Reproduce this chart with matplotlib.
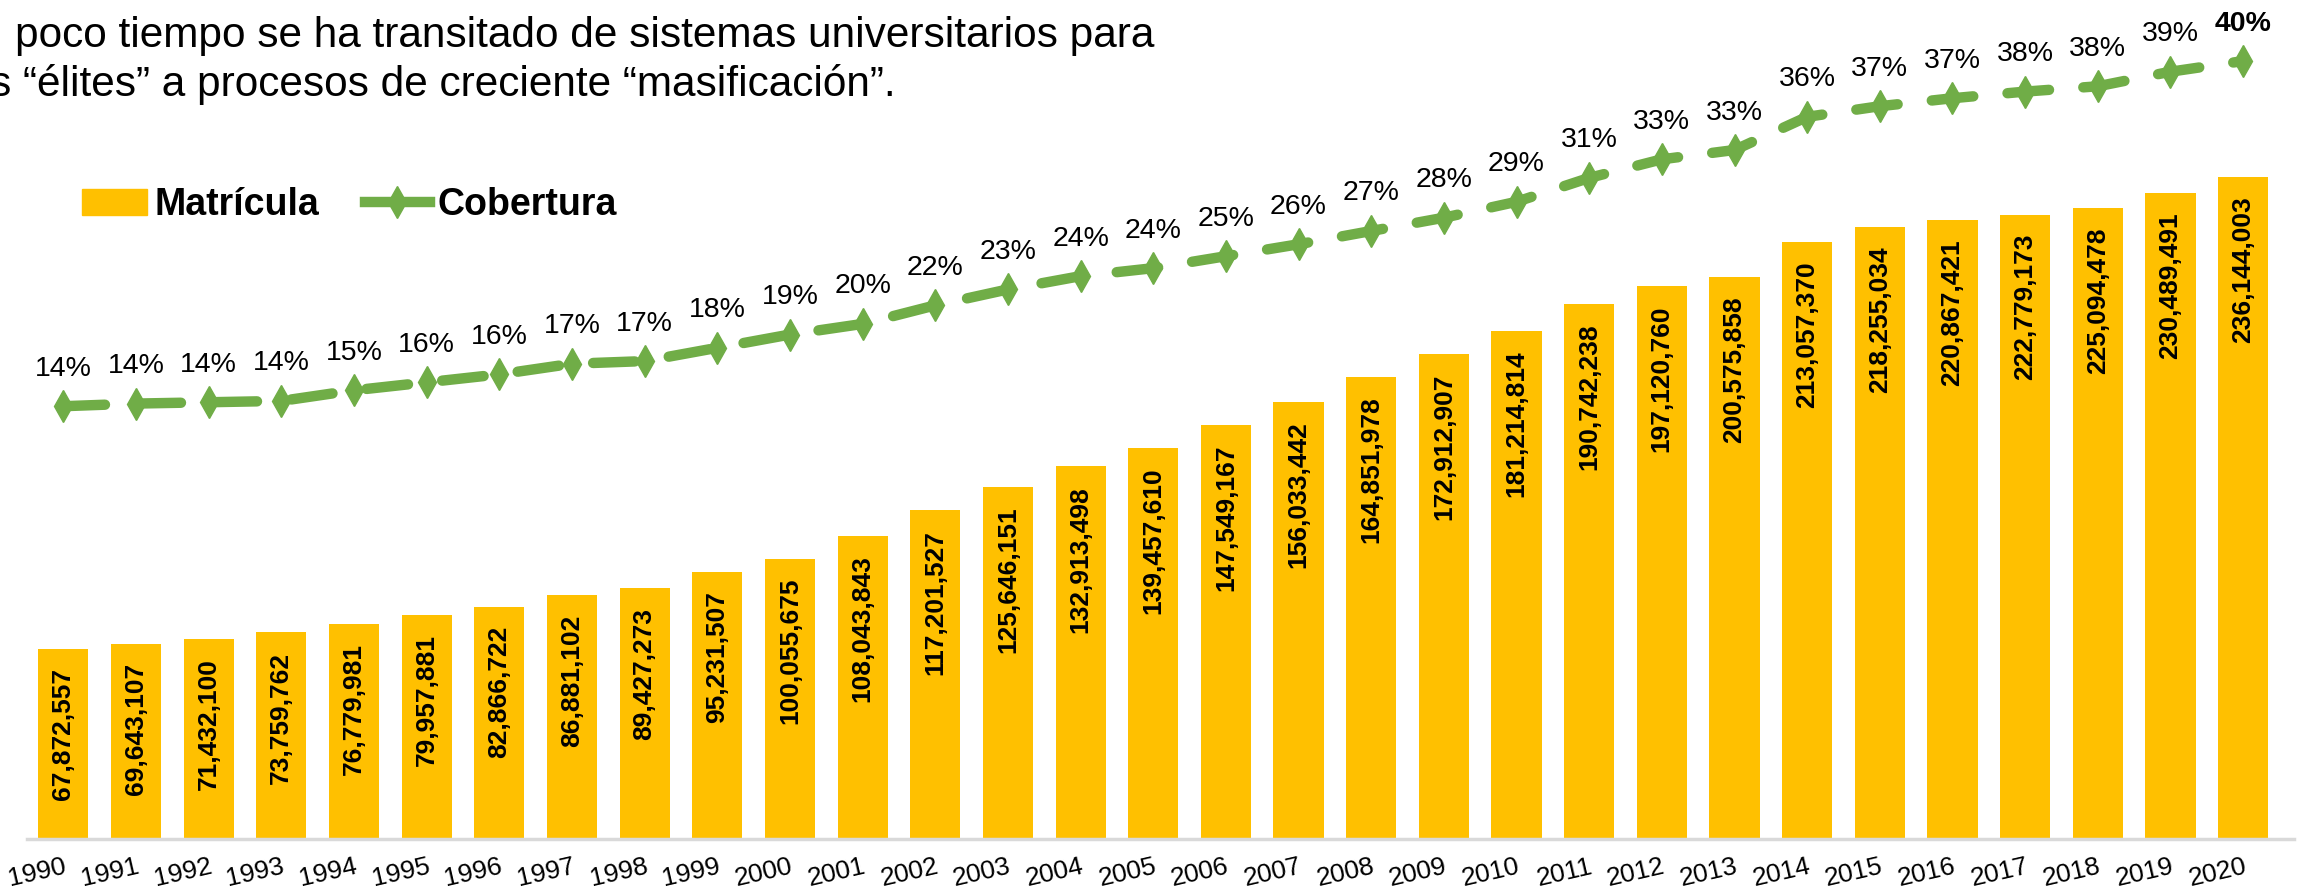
import numpy as np
import matplotlib
matplotlib.use('Agg')
from matplotlib import pyplot as plt
from matplotlib.patches import Patch
from matplotlib.lines import Line2D

plt.rcParams['font.family'] = ['Liberation Sans', 'DejaVu Sans']

years = [str(y) for y in range(1990, 2021)]
matricula = [67872557, 69643107, 71432100, 73759762, 76779981, 79957881, 82866722,
             86881102, 89427273, 95231507, 100055675, 108043843, 117201527, 125646151,
             132913498, 139457610, 147549167, 156033442, 164851978, 172912907,
             181214814, 190742238, 197120760, 200575858, 213057370, 218255034,
             220867421, 222779173, 225094478, 230489491, 236144003]
cobertura = [14.0, 14.2, 14.3, 14.4, 15.2, 15.8, 16.4, 17.2, 17.4, 18.4, 19.4, 20.2,
             21.6, 22.8, 23.8, 24.4, 25.3, 26.2, 27.2, 28.2, 29.4, 31.2, 32.6, 33.3,
             35.8, 36.6, 37.2, 37.7, 38.1, 39.2, 40.0]

amarillo = '#FFC000'
verde = '#70AD47'

fig = plt.figure(figsize=(23.16, 8.94), dpi=100)
ax = fig.add_axes([27/2316, 55/894, (2294-27)/2316, 839/894])
x = np.arange(len(years))

ax.bar(x, matricula, width=0.69, color=amarillo, zorder=2)
ax.set_xlim(-0.5, 30.7)
ax.set_ylim(0, 299.3e6)
for xi, v in zip(x, matricula):
    ax.annotate('{:,}'.format(v), (xi, v), xytext=(0, -14), textcoords='offset points',
                rotation=90, ha='center', va='top', fontsize=19, fontweight='bold')

for s in ['top', 'left', 'right']:
    ax.spines[s].set_visible(False)
ax.spines['bottom'].set_color('#d9d9d9')
ax.spines['bottom'].set_linewidth(2.5)
ax.set_yticks([])
ax.set_xticks(x, years, rotation=13, ha='right', rotation_mode='anchor', fontsize=19)
ax.tick_params(axis='x', length=0, pad=11)

ax2 = ax.twinx()
ax2.set_ylim(-18.6, 44.6)
ax2.axis('off')
ax2.plot(x, cobertura, color=verde, lw=7.5, dashes=(4.0, 3.3), dash_capstyle='round',
         marker='d', markersize=16, zorder=3)
for xi, c in zip(x, cobertura):
    bold = 'bold' if xi == len(x) - 1 else 'normal'
    ax2.annotate('{:.0f}%'.format(c), (xi, c), xytext=(0, 27), textcoords='offset points',
                 ha='center', va='center', fontsize=20.5, fontweight=bold)

handles = [Patch(color=amarillo),
           Line2D([], [], color=verde, lw=7.5, marker='d', markersize=16)]
fig.legend(handles, ['Matrícula', 'Cobertura'], loc='center left', bbox_to_anchor=(48/2316, 1-205/894),
           ncol=2, frameon=False, prop={'size': 27, 'weight': 'bold'},
           handlelength=1.75, handleheight=0.7, handletextpad=0.2, columnspacing=1.2)

fig.text(15/2316, 1-47/894, 'poco tiempo se ha transitado de sistemas universitarios para',
         fontsize=30.5, ha='left', va='baseline')
fig.text(-10/2316, 1-96/894, 's “élites” a procesos de creciente “masificación”.',
         fontsize=30.5, ha='left', va='baseline')

fig.savefig('out.png', dpi=100)
